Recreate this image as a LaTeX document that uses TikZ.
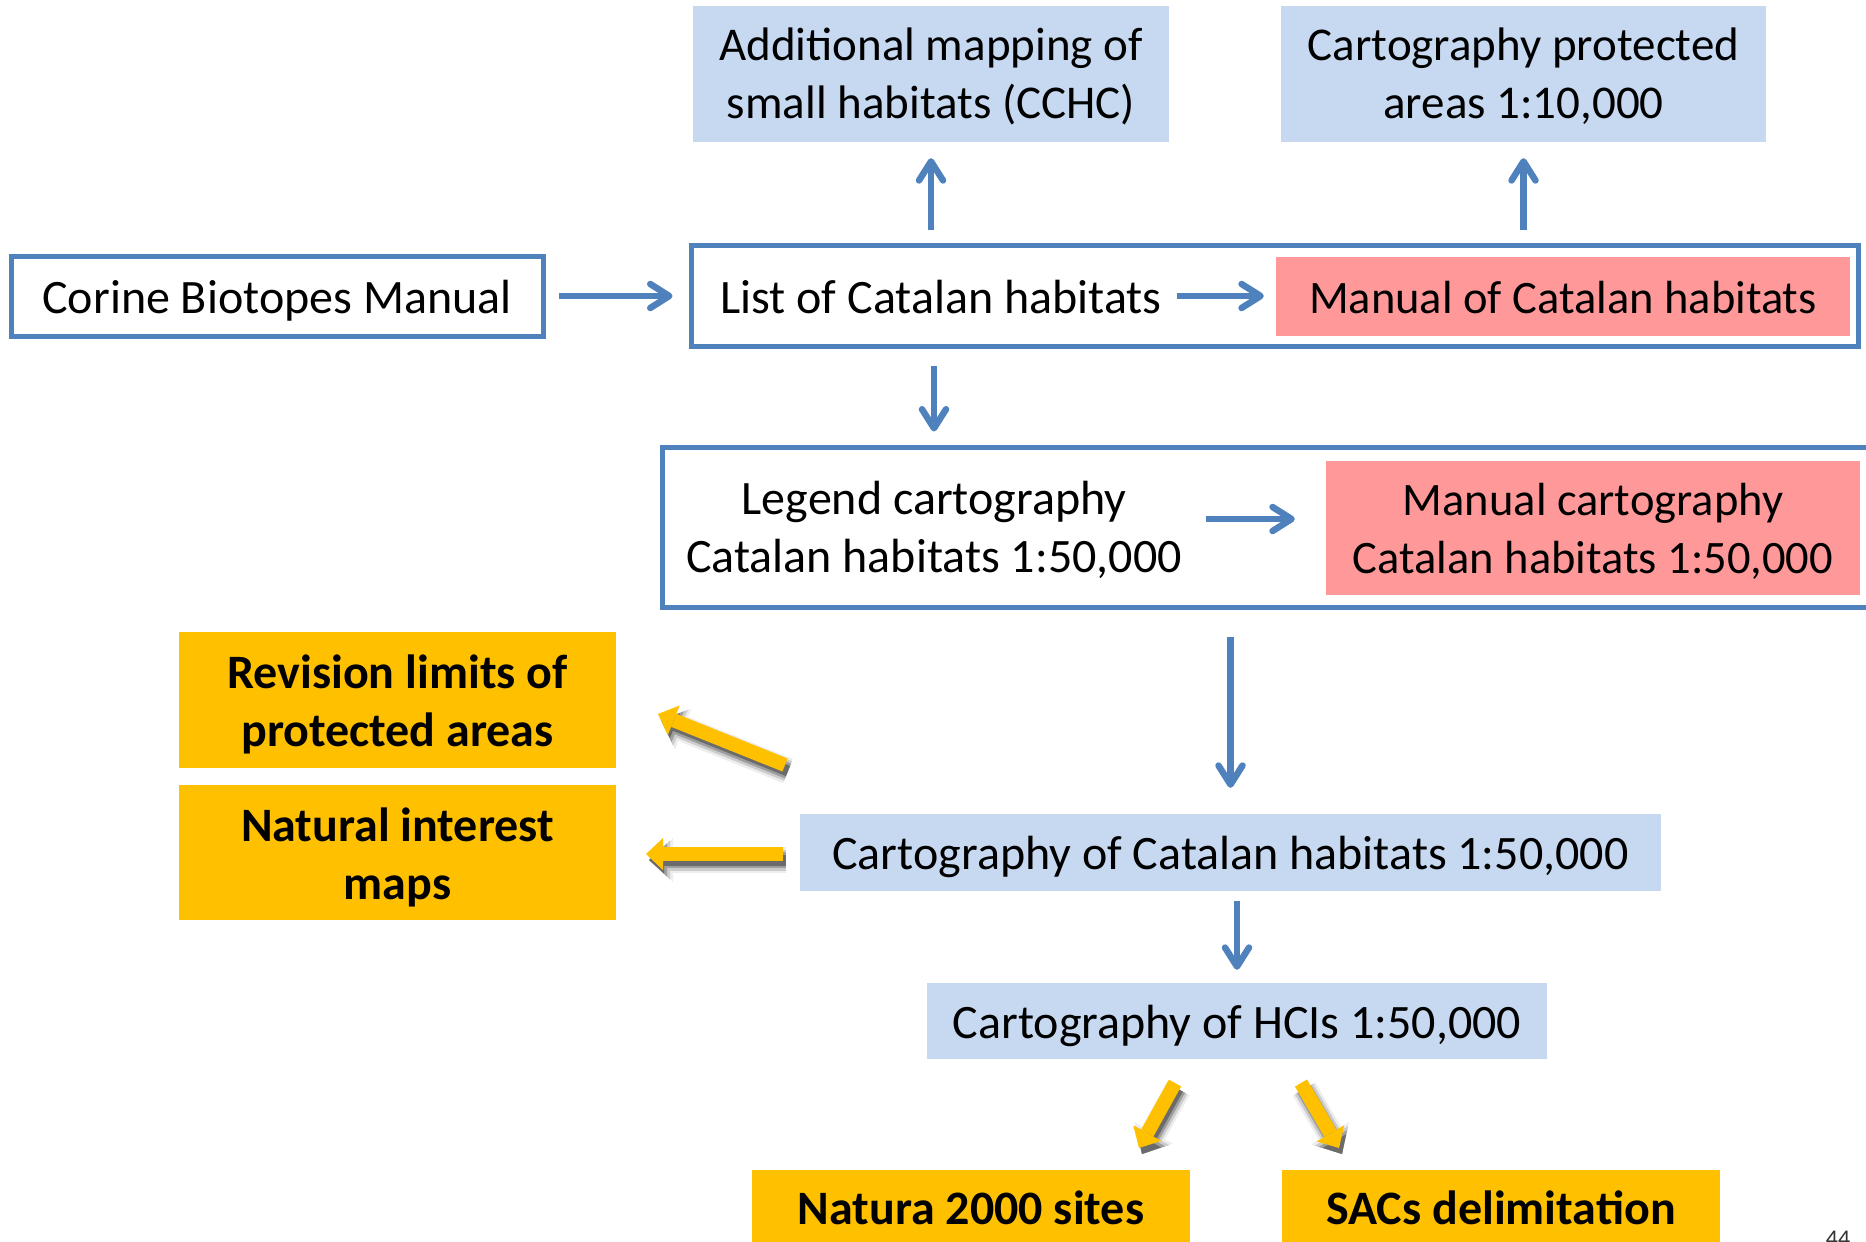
\documentclass[tikz,border=0pt]{standalone}
\usepackage{fontspec}
\setmainfont{Carlito}
\usetikzlibrary{arrows.meta,calc}
\definecolor{lblue}{HTML}{C6D9F1}
\definecolor{bblue}{HTML}{4F81BD}
\definecolor{pinkc}{HTML}{FF9999}
\definecolor{gold}{HTML}{FFC000}
\newcommand\tstrut{\rule{0pt}{43pt}}
\newcommand\sstrut{\rule{0pt}{38pt}}
\begin{document}
\begin{tikzpicture}[x=1pt,y=-1pt,
  every node/.style={font=\fontsize{48}{58}\selectfont, inner sep=0pt, align=center},
  one/.style={text height=34pt, text depth=0pt},
  small/.style={font=\fontsize{47}{58}\selectfont},
  lbox/.style={fill=lblue},
  pbox/.style={fill=pinkc, font=\fontsize{46.5}{58}\selectfont},
  ybox/.style={fill=gold, font=\fontsize{48}{58}\selectfont\bfseries},
  frame/.style={draw=bblue, line width=5pt},
  barrow/.style={draw=bblue, line width=6.5pt, line cap=butt,
    -{Straight Barb[length=19pt,width=24pt,round]}},
  shad/.style={draw=#1, transform canvas={xshift=3pt,yshift=-6pt}},
  yarrow/.style={draw=gold, line width=14pt,
    -{Triangle[length=17pt,width=32pt,line width=0pt]},
    preaction={shad=black!7, line width=26pt, -{Triangle[length=24pt,width=44pt,line width=0pt]}},
    preaction={shad=black!20, line width=21pt, -{Triangle[length=21pt,width=39pt,line width=0pt]}},
    preaction={shad=black!38, line width=16pt, -{Triangle[length=18pt,width=33pt,line width=0pt]}},
    preaction={shad=black!58, line width=11pt, -{Triangle[length=15pt,width=27pt,line width=0pt]}}}
]
\useasboundingbox (0,0) rectangle (1866,1242);
\clip (0,0) rectangle (1866,1242);

% top boxes
\node[lbox, small, minimum width=476pt, minimum height=136pt] (add) at (931,74) {\sstrut Additional mapping of\\small habitats (CCHC)};
\node[lbox, small, minimum width=485pt, minimum height=136pt] (prot) at (1523.5,74) {\sstrut Cartography protected\\areas 1:10,000};

% row 1
\node[frame, one, minimum width=532pt, minimum height=80pt] (corine) at (277,296) {Corine Biotopes Manual};
\node[frame, minimum width=1167pt, minimum height=101pt] (listframe) at (1274.5,295.5) {};
\node[one] (listtext) at (941,296) {List of Catalan habitats};
\node[pbox, one, minimum width=574pt, minimum height=79pt] (manual) at (1563,296.5) {Manual of Catalan habitats};

% row 2
\node[frame, minimum width=1218pt, minimum height=160pt] (frame2) at (1271,527) {};
\node (legend) at (934,528) {\sstrut Legend cartography\\Catalan habitats 1:50,000};
\node[pbox, minimum width=534pt, minimum height=134pt] (mcart) at (1593,528) {\sstrut Manual cartography\\Catalan habitats 1:50,000};

% middle
\node[lbox, one, minimum width=861pt, minimum height=77pt] (cat) at (1230.5,852.5) {Cartography of Catalan habitats 1:50,000};
\node[lbox, one, minimum width=620pt, minimum height=76pt] (hci) at (1237,1021) {Cartography of HCIs 1:50,000};

% yellow boxes
\node[ybox, minimum width=437pt, minimum height=136pt] (rev) at (397.5,700) {\tstrut Revision limits of\\protected areas};
\node[ybox, minimum width=437pt, minimum height=135pt] (nat) at (397.5,852.5) {\tstrut Natural interest\\maps};
\node[ybox, one, minimum width=438pt, minimum height=74pt] (natura) at (971,1207) {Natura 2000 sites};
\node[ybox, one, minimum width=438pt, minimum height=74pt] (sacs) at (1501,1207) {SACs delimitation};

% page number
\node[anchor=base, font=\fontsize{24}{28}\selectfont, text=black!80] (pg) at (1838,1246) {44};

% blue arrows
\draw[barrow, shorten <=13pt, shorten >=16pt] (corine.east) -- (corine.east -| listframe.west);
\draw[barrow, shorten <=15pt, shorten >=12pt] (listtext.east) -- (listtext.east -| manual.west);
\draw[barrow, shorten <=13pt, shorten >=16pt] (listframe.north -| add) -- (add.south);
\draw[barrow, shorten <=13pt, shorten >=16pt] (listframe.north -| prot) -- (prot.south);
\draw[barrow, shorten <=17pt, shorten >=13pt] (listframe.south -| legend) -- (frame2.north -| legend);
\draw[barrow, shorten <=24pt, shorten >=31pt] ([yshift=9pt]legend.east) -- ([yshift=9pt]legend.east -| mcart.west);
\draw[barrow, shorten <=27pt, shorten >=26pt] (frame2.south -| cat) -- (cat.north);
\draw[barrow, shorten <=10pt, shorten >=13pt] (cat.south -| hci) -- (hci.north);

% yellow arrows
\coordinate (y1s) at (785,765);
\coordinate (y1e) at (658,714);
\coordinate (y2s) at (783,854);
\coordinate (y2e) at (646,854);
\coordinate (y3s) at (1175,1083);
\coordinate (y3e) at (1139,1148);
\coordinate (y4s) at (1301,1083);
\coordinate (y4e) at (1339,1148);
\draw[yarrow] (y1s) -- (y1e);
\draw[yarrow] (y2s) -- (y2e);
\draw[yarrow] (y3s) -- (y3e);
\draw[yarrow] (y4s) -- (y4e);
\end{tikzpicture}
\end{document}
